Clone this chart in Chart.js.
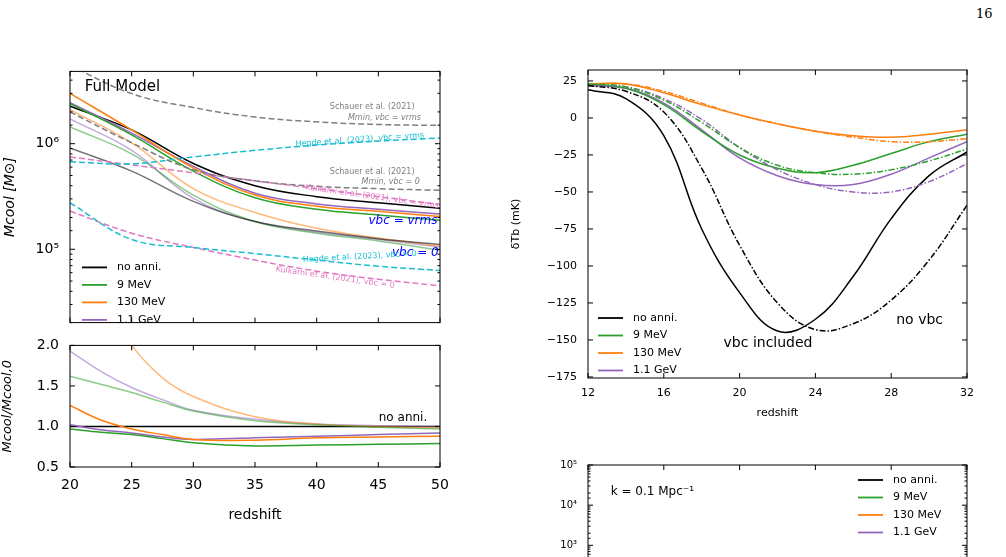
<!DOCTYPE html>
<html>
<head>
<meta charset="utf-8">
<script src="https://cdn.jsdelivr.net/npm/chart.js@4/dist/chart.umd.min.js"></script>
<style>
  html, body { margin: 0; padding: 0; background: #fff; overflow: hidden; width: 1006px; height: 557px; }
  canvas { position: absolute; }
  #page { position: absolute; left: 976px; top: 6px; font: 13px "DejaVu Serif", serif; }
</style>
</head>
<body>
<div id="page">16</div>
<canvas id="c1" style="left:0;top:60px" width="460" height="274"></canvas>
<canvas id="c2" style="left:0;top:334px" width="460" height="190"></canvas>
<canvas id="c3" style="left:510px;top:60px" width="480" height="360"></canvas>
<canvas id="c4" style="left:510px;top:455px" width="480" height="260"></canvas>
<script>
// ---- data: cooling mass (left top) ----
const zMass = [20, 25, 30, 35, 40, 45, 50];
const massNoAnni = [2.26e6, 1.35e6, 6.5e5, 4.0e5, 3.15e5, 2.76e5, 2.44e5];
const mass9MeV   = [2.4e6, 1.21e6, 5.5e5, 3.07e5, 2.39e5, 2.11e5, 1.88e5];
const mass130MeV = [3.0e6, 1.35e6, 5.9e5, 3.26e5, 2.56e5, 2.29e5, 2.04e5];
const mass1GeV   = [2.45e6, 1.26e6, 6.1e5, 3.4e5, 2.69e5, 2.39e5, 2.16e5];
const mass0NoAnni = [9.1e5, 5.5e5, 2.84e5, 1.83e5, 1.49e5, 1.26e5, 1.11e5];
const mass0_9MeV  = [1.44e6, 8.0e5, 3.26e5, 1.83e5, 1.42e5, 1.2e5, 9.8e4];
const mass0_130MeV = [2.1e6, 1.02e6, 3.75e5, 2.23e5, 1.58e5, 1.28e5, 1.07e5];
const mass0_1GeV  = [1.72e6, 8.65e5, 3.04e5, 1.83e5, 1.45e5, 1.24e5, 1.05e5];
const schauerRms = [5.5e6, 2.98e6, 2.2e6, 1.79e6, 1.61e6, 1.52e6, 1.49e6];
const schauer0   = [2.0e6, 1.02e6, 5.67e5, 4.45e5, 3.95e5, 3.75e5, 3.62e5];
const hegdeRms   = [6.74e5, 6.45e5, 7.5e5, 8.65e5, 9.7e5, 1.06e6, 1.13e6];
const hegde0     = [2.75e5, 1.24e5, 1.04e5, 9.1e4, 7.9e4, 6.9e4, 6.3e4];
const kulkarniRms = [7.5e5, 6.3e5, 5.3e5, 4.45e5, 3.75e5, 3.15e5, 2.65e5];
const kulkarni0   = [2.3e5, 1.42e5, 1.04e5, 7.9e4, 6.2e4, 5.2e4, 4.5e4];

// ---- data: ratio (left bottom) ----
const zRatio = [20, 22.5, 25, 27.5, 30, 35, 40, 45, 50];
const ratioNoAnni = [1, 1, 1, 1, 1, 1, 1, 1, 1];
const ratio9MeV   = [0.97, 0.93, 0.9, 0.85, 0.8, 0.76, 0.77, 0.78, 0.79];
const ratio130MeV = [1.26, 1.08, 0.97, 0.9, 0.84, 0.83, 0.86, 0.87, 0.88];
const ratio1GeV   = [1.02, 0.96, 0.92, 0.87, 0.84, 0.86, 0.88, 0.9, 0.92];
const ratio0_9MeV   = [1.62, 1.52, 1.42, 1.3, 1.19, 1.07, 1.02, 0.99, 0.97];
const ratio0_130MeV = [3.4, 2.6, 2.0, 1.6, 1.37, 1.12, 1.03, 1.0, 0.98];
const ratio0_1GeV   = [1.93, 1.68, 1.48, 1.33, 1.2, 1.09, 1.03, 1.01, 1.0];

// ---- data: 21cm brightness temperature (right) ----
const zTb = [12, 14, 16, 18, 20, 22, 24, 26, 28, 30, 32];
const tbNoAnni = [19, 13, -12, -75, -118, -144, -136, -107, -68, -39, -23];
const tbNoAnniNoV = [22, 18, 4, -34, -86, -125, -143, -139, -123, -96, -59];
const tb9MeV = [23, 20, 9, -9, -25, -34, -37, -32, -24, -16, -11];
const tb9MeVNoV = [23, 21, 12, -3, -20, -32, -37, -38, -35, -29, -21];
const tb130MeV = [23, 23, 17, 9, 2, -4, -9, -12, -13, -11, -8];
const tb130MeVNoV = [23, 23, 18, 10, 2, -4, -9, -13, -16, -16, -14];
const tb1GeV = [22, 20, 10, -8, -27, -39, -45, -45, -38, -27, -16];
const tb1GeVNoV = [22, 21, 13, -1, -20, -35, -45, -50, -50, -43, -31];

const C = { black: '#000000', green: '#2ca02c', orange: '#ff7f0e', purple: '#9467bd',
  gray: '#7f7f7f', cyan: '#17becf', pink: '#e377c2', blue: '#0000ff' };
const legendItems = [['no anni.', C.black], ['9 MeV', C.green], ['130 MeV', C.orange], ['1.1 GeV', C.purple]];
const FONT = '"DejaVu Sans", sans-serif';

const pts = (xs, ys) => xs.map((x, i) => ({ x: x, y: ys[i] }));
function line(xs, ys, color, opt) {
  return Object.assign({ data: pts(xs, ys), borderColor: color, borderWidth: 1.5,
    pointRadius: 0, tension: 0.4, fill: false }, opt || {});
}

// inward ticks, frame, annotations, legend
const extraPlugin = {
  id: 'extra',
  afterDraw(chart) {
    const ex = chart.options.plugins.extra || {};
    const ctx = chart.ctx, a = chart.chartArea;
    ctx.save();
    ctx.strokeStyle = '#000'; ctx.lineWidth = 1;
    ctx.strokeRect(a.left, a.top, a.right - a.left, a.bottom - a.top);
    Object.values(chart.scales).forEach(s => {
      s.ticks.forEach((t, i) => {
        const p = s.getPixelForTick(i);
        const major = !s.options.type || s.options.type !== 'logarithmic' || /^10/.test(String(t.label)) || ex.allMajor;
        const len = major ? 5 : 2.5;
        ctx.beginPath();
        if (s.isHorizontal()) {
          if (p < a.left - 0.5 || p > a.right + 0.5) return;
          ctx.moveTo(p, a.bottom); ctx.lineTo(p, a.bottom - len);
          ctx.moveTo(p, a.top); ctx.lineTo(p, a.top + len);
        } else {
          if (p < a.top - 0.5 || p > a.bottom + 0.5) return;
          ctx.moveTo(a.left, p); ctx.lineTo(a.left + len, p);
          ctx.moveTo(a.right, p); ctx.lineTo(a.right - len, p);
        }
        ctx.stroke();
      });
    });
    (ex.texts || []).forEach(t => {
      const px = chart.scales.x.getPixelForValue(t.x), py = chart.scales.y.getPixelForValue(t.y);
      ctx.save();
      ctx.translate(px, py); ctx.rotate((t.rot || 0) * Math.PI / 180);
      ctx.fillStyle = t.color || '#000';
      ctx.font = (t.style || '') + ' ' + (t.size || 9) + 'px ' + FONT;
      ctx.textAlign = t.align || 'center'; ctx.textBaseline = 'middle';
      ctx.fillText(t.text, 0, 0);
      ctx.restore();
    });
    if (ex.legend) {
      const L = ex.legend;
      ctx.font = '11px ' + FONT; ctx.textBaseline = 'middle'; ctx.textAlign = 'left';
      legendItems.forEach((it, i) => {
        const y = a.top + L.y + i * 17.5, x = a.left + L.x;
        ctx.strokeStyle = it[1]; ctx.lineWidth = 1.8;
        ctx.beginPath(); ctx.moveTo(x, y); ctx.lineTo(x + 25, y); ctx.stroke();
        ctx.fillStyle = '#000'; ctx.fillText(it[0], x + 35, y);
      });
    }
    ctx.restore();
  }
};
Chart.register(extraPlugin);
Chart.defaults.font.family = FONT;
Chart.defaults.color = '#000';
Chart.defaults.animation = false;

const sup = { '5': '⁵', '6': '⁶', '4': '⁴', '3': '³' };
function logLabel(v) {
  const e = Math.log10(v);
  if (Math.abs(e - Math.round(e)) < 1e-6) return '10' + String(Math.round(e)).split('').map(c => sup[c] || c).join('');
  return '';
}
const noGrid = { display: false };
const noBorder = { display: false };

// ---- left top ----
new Chart(document.getElementById('c1'), {
  type: 'line',
  data: { datasets: [
    line(zMass, schauerRms, C.gray, { borderDash: [6, 3] }),
    line(zMass, schauer0, C.gray, { borderDash: [6, 3] }),
    line(zMass, hegdeRms, C.cyan, { borderDash: [6, 3] }),
    line(zMass, hegde0, C.cyan, { borderDash: [6, 3] }),
    line(zMass, kulkarniRms, C.pink, { borderDash: [6, 3] }),
    line(zMass, kulkarni0, C.pink, { borderDash: [6, 3] }),
    line(zMass, mass0NoAnni, 'rgba(0,0,0,0.55)'),
    line(zMass, mass0_9MeV, 'rgba(44,160,44,0.55)'),
    line(zMass, mass0_130MeV, 'rgba(255,127,14,0.55)'),
    line(zMass, mass0_1GeV, 'rgba(148,103,189,0.55)'),
    line(zMass, mass9MeV, C.green),
    line(zMass, mass130MeV, C.orange),
    line(zMass, mass1GeV, C.purple),
    line(zMass, massNoAnni, C.black)
  ] },
  options: {
    responsive: false,
    layout: { padding: { top: 10, right: 20 } },
    plugins: { legend: { display: false }, tooltip: { enabled: false },
      extra: { legend: { x: 12, y: 196 }, texts: [
        { x: 21.2, y: 3.4e6, text: 'Full Model', size: 15, align: 'left' },
        { x: 44.5, y: 2.25e6, text: 'Schauer et al. (2021)', color: C.gray, size: 8 },
        { x: 45.5, y: 1.75e6, text: 'Mmin, vbc = vrms', color: C.gray, size: 8, style: 'italic' },
        { x: 43.5, y: 1.09e6, text: 'Hegde et al. (2023), vbc = vrms', color: C.cyan, size: 8, rot: -4 },
        { x: 44.5, y: 5.4e5, text: 'Schauer et al. (2021)', color: C.gray, size: 8 },
        { x: 46, y: 4.3e5, text: 'Mmin, vbc = 0', color: C.gray, size: 8, style: 'italic' },
        { x: 44.5, y: 3.15e5, text: 'Kulkarni et al. (2021), vbc = vrms', color: C.pink, size: 8, rot: 8 },
        { x: 47, y: 1.85e5, text: 'vbc = vrms', color: C.blue, size: 12, style: 'italic' },
        { x: 48, y: 9.3e4, text: 'vbc = 0', color: C.blue, size: 12, style: 'italic' },
        { x: 43.5, y: 8.5e4, text: 'Hegde et al. (2023), vbc = 0', color: C.cyan, size: 8, rot: -3 },
        { x: 41.5, y: 5.4e4, text: 'Kulkarni et al. (2021), vbc = 0', color: C.pink, size: 8, rot: 8 }
      ] } },
    scales: {
      x: { type: 'linear', min: 20, max: 50, ticks: { display: false, stepSize: 5 }, grid: noGrid, border: noBorder,
        afterFit(s) { s.height = 0; } },
      y: { type: 'logarithmic', min: 2.02e4, max: 4.84e6, grid: noGrid, border: noBorder,
        ticks: { autoSkip: false, font: { size: 14 }, callback: v => logLabel(v) },
        title: { display: true, text: 'Mcool [M⊙]', font: { size: 14, style: 'italic' }, padding: 2 },
        afterFit(s) { s.width = 70; } }
    }
  }
});

// ---- left bottom ----
new Chart(document.getElementById('c2'), {
  type: 'line',
  data: { datasets: [
    line(zRatio, ratio0_9MeV, 'rgba(44,160,44,0.55)'),
    line(zRatio, ratio0_130MeV, 'rgba(255,127,14,0.55)'),
    line(zRatio, ratio0_1GeV, 'rgba(148,103,189,0.55)'),
    line(zRatio, ratio9MeV, C.green),
    line(zRatio, ratio130MeV, C.orange),
    line(zRatio, ratio1GeV, C.purple),
    line(zRatio, ratioNoAnni, C.black, { tension: 0 })
  ] },
  options: {
    responsive: false,
    clip: true,
    layout: { padding: { right: 20 } },
    plugins: { legend: { display: false }, tooltip: { enabled: false },
      extra: { texts: [{ x: 47, y: 1.11, text: 'no anni.', size: 12 }] } },
    scales: {
      x: { type: 'linear', min: 20, max: 50, grid: noGrid, border: noBorder,
        ticks: { stepSize: 5, font: { size: 14 }, padding: 2 },
        title: { display: true, text: 'redshift', font: { size: 14 }, padding: 0 },
        afterFit(s) { s.height = 57; } },
      y: { type: 'linear', min: 0.5, max: 2.0, grid: noGrid, border: noBorder,
        ticks: { stepSize: 0.5, font: { size: 14 }, callback: v => v.toFixed(1) },
        title: { display: true, text: 'Mcool/Mcool,0', font: { size: 13, style: 'italic' }, padding: 0 },
        afterFit(s) { s.width = 70; } }
    }
  }
});

// ---- right top ----
new Chart(document.getElementById('c3'), {
  type: 'line',
  data: { datasets: [
    line(zTb, tbNoAnniNoV, C.black, { borderDash: [6, 2, 1.5, 2] }),
    line(zTb, tb9MeVNoV, C.green, { borderDash: [6, 2, 1.5, 2] }),
    line(zTb, tb130MeVNoV, C.orange, { borderDash: [6, 2, 1.5, 2] }),
    line(zTb, tb1GeVNoV, C.purple, { borderDash: [6, 2, 1.5, 2] }),
    line(zTb, tbNoAnni, C.black),
    line(zTb, tb9MeV, C.green),
    line(zTb, tb130MeV, C.orange),
    line(zTb, tb1GeV, C.purple)
  ] },
  options: {
    responsive: false,
    layout: { padding: { top: 10, right: 23 } },
    plugins: { legend: { display: false }, tooltip: { enabled: false },
      extra: { legend: { x: 10, y: 248 }, texts: [
        { x: 29.5, y: -137, text: 'no vbc', size: 14 },
        { x: 21.5, y: -152, text: 'vbc included', size: 14 }
      ] } },
    scales: {
      x: { type: 'linear', min: 12, max: 32, grid: noGrid, border: noBorder,
        ticks: { stepSize: 4, font: { size: 11 }, padding: 1 },
        title: { display: true, text: 'redshift', font: { size: 11 }, padding: 0 },
        afterFit(s) { s.height = 42; } },
      y: { type: 'linear', min: -175.7, max: 32.4, grid: noGrid, border: noBorder,
        afterBuildTicks(s) { s.ticks = [25, 0, -25, -50, -75, -100, -125, -150, -175].map(v => ({ value: v })); },
        ticks: { font: { size: 11 }, callback: v => String(v).replace('-', '−') },
        title: { display: true, text: 'δTb (mK)', font: { size: 11 }, padding: 0 },
        afterFit(s) { s.width = 78; } }
    }
  }
});

// ---- right bottom (cut by page) ----
new Chart(document.getElementById('c4'), {
  type: 'line',
  data: { datasets: [] },
  options: {
    responsive: false,
    layout: { padding: { top: 10, right: 23 } },
    plugins: { legend: { display: false }, tooltip: { enabled: false },
      extra: { legend: { x: 270, y: 15 }, texts: [
        { x: 0.06, y: 2.2e4, text: 'k = 0.1 Mpc⁻¹', size: 12, align: 'left' }
      ] } },
    scales: {
      x: { type: 'linear', min: 0, max: 1, display: true, grid: noGrid, border: noBorder,
        ticks: { display: false }, afterFit(s) { s.height = 0; } },
      y: { type: 'logarithmic', min: 1e-1, max: 1e5, grid: noGrid, border: noBorder,
        ticks: { autoSkip: false, font: { size: 10 }, callback: v => logLabel(v) },
        afterFit(s) { s.width = 78; } }
    }
  }
});
</script>
</body>
</html>
